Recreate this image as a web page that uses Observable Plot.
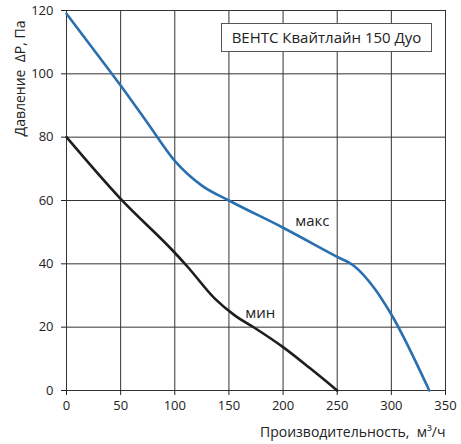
<!DOCTYPE html>
<html>
<head>
<meta charset="utf-8">
<script src="https://cdn.jsdelivr.net/npm/d3@7"></script>
<script src="https://cdn.jsdelivr.net/npm/@observablehq/plot@0.6"></script>
<style>
  body { margin: 0; background: #fff; font-family: "Open Sans", sans-serif; }
  #chart { position: relative; width: 461px; height: 444px; }
  #titulo {
    position: absolute; left: 221px; top: 23px; width: 209px; height: 27px;
    border: 1px solid #555; background: #fff; color: #222;
    font-size: 15px; line-height: 27px; text-align: center;
  }
</style>
</head>
<body>
<div id="chart"><div id="titulo">ВЕНТС Квайтлайн 150 Дуо</div></div>
<script>
// curva "макс"
const maxQ = [0, 25, 50, 75, 100, 125, 150, 200, 250, 265, 285, 300, 335];
const maxP = [119, 107.7, 96.3, 84.4, 72.5, 64.7, 60, 51.4, 42.2, 39.5, 32, 24, 0];

// curva "мин"
const minQ = [0, 50, 100, 112, 137, 155, 175, 200, 225, 250];
const minP = [80, 60.5, 43.5, 39, 29, 23.8, 19.5, 13.7, 7, 0];

const xTicks = [0, 50, 100, 150, 200, 250, 300, 350];
const yTicks = [0, 20, 40, 60, 80, 100, 120];

const etiquetas = [
  {q: 227, p: 53.5, t: "макс"},
  {q: 179, p: 24.5, t: "мин"}
];

const dataMax = maxQ.map((q, i) => ({q, p: maxP[i]}));
const dataMin = minQ.map((q, i) => ({q, p: minP[i]}));

let chart = Plot.plot({
  width: 461,
  height: 444,
  marginLeft: 66,
  marginRight: 16,
  marginTop: 10,
  marginBottom: 54,
  style: { fontFamily: "Open Sans, sans-serif", fontSize: 13, color: "#222", background: "#fff" },
  x: { domain: [0, 350], label: null },
  y: { domain: [0, 120], label: null },
  marks: [
    Plot.gridX(xTicks, { stroke: "#333", strokeOpacity: 1, strokeWidth: 1 }),
    Plot.gridY(yTicks, { stroke: "#333", strokeOpacity: 1, strokeWidth: 1 }),
    Plot.frame({ stroke: "#333" }),
    Plot.axisX({ ticks: xTicks, tickSize: 5, tickPadding: 5, label: null, fontSize: 13 }),
    Plot.axisY({ ticks: yTicks, tickSize: 5, tickPadding: 8, label: null, fontSize: 13 }),
    Plot.line(dataMax, { x: "q", y: "p", stroke: "#2a6fb0", strokeWidth: 2.6, curve: "monotone-x" }),
    Plot.line(dataMin, { x: "q", y: "p", stroke: "#1e1e1e", strokeWidth: 2.6, curve: "monotone-x" }),
    Plot.text(etiquetas, { x: "q", y: "p", text: "t", fontSize: 15, fill: "#222" }),
    Plot.text(["Давление  ΔP, Па"], { frameAnchor: "top-left", dx: -51, dy: 10, rotate: -90, textAnchor: "end", fontSize: 14, fill: "#222" }),
    Plot.text(["Производительность,  м³/ч"], { frameAnchor: "bottom-right", dx: 0, dy: 46, textAnchor: "end", fontSize: 14, fill: "#222" })
  ]
});

d3.select('#chart').append(() => chart)
</script>
</body>
</html>
